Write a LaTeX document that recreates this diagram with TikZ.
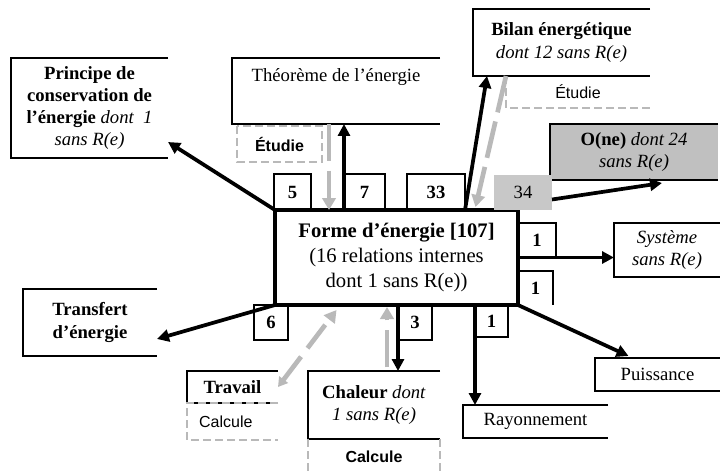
\documentclass[tikz,border=0pt]{standalone}
\usepackage{fontspec}
\setmainfont{Liberation Serif}
\setsansfont{Liberation Sans}
\usetikzlibrary{arrows.meta,calc}
\definecolor{lgray}{RGB}{185,185,185}
\definecolor{boxgray}{RGB}{192,192,192}
\definecolor{numgray}{RGB}{200,200,200}
\tikzset{
  fnt/.style={font=\fontsize{14}{16.7}\selectfont},
  base/.style={anchor=north west, inner sep=0pt, outer sep=0pt, align=center, fnt},
  numb/.style={font=\bfseries\fontsize{14}{16}\selectfont},
  sansb/.style={font=\sffamily\bfseries\fontsize{12}{14}\selectfont},
  sansr/.style={font=\sffamily\fontsize{12}{14}\selectfont},
  arr/.style={line width=2.8pt, -{Triangle[length=9pt,width=9pt]}},
  garr/.style={line width=3.5pt, lgray, dash pattern=on 28pt off 7pt, -{Triangle[length=9pt,width=10pt]}},
  gdash/.style={lgray, line width=1.5pt, dash pattern=on 6pt off 3pt},
  edge1/.style={line width=1.2pt},
  nbord/.style={line width=1.8pt}
}
\newcommand\mkbox[7]{\node[base,#6,minimum width={(#4-#2)*0.75pt},minimum height={(#5-#3)*0.75pt}] (#1) at (#2,#3) {#7};}
\newcommand\openbx[1]{\draw[edge1] (#1.north east) -- (#1.north west) -- (#1.south west) -- (#1.south east);}
\begin{document}
\begin{tikzpicture}[x=0.75pt,y=-0.75pt]
\fill[white] (0,0) rectangle (720,474);
\useasboundingbox (0,0) rectangle (720,474);

% outer boxes
\mkbox{princ}{11}{58}{168}{158}{}{\textbf{Principe de}\\\textbf{conservation de}\\\textbf{l’énergie} \textit{dont\ \ 1}\\\textit{sans R(e)}}
\openbx{princ}
\mkbox{theo}{232}{58}{440}{124}{}{Théorème de l’énergie\\[7pt]\mbox{}}
\openbx{theo}
\mkbox{etuA}{237}{126}{322}{162}{sansb}{Étudie}
\draw[gdash] (etuA.north west) rectangle (etuA.south east);
\mkbox{bilan}{473}{9}{650}{76}{}{\textbf{Bilan énergétique}\\\textit{dont 12 sans R(e)}}
\openbx{bilan}
\mkbox{etuB}{506}{76}{650}{108}{sansr}{Étudie}
\draw[gdash] (etuB.north west) -- (etuB.south west) -- (etuB.south east);
\mkbox{one}{550}{124}{718}{180}{fill=boxgray}{\textbf{O(ne)} \textit{dont 24}\\\textit{sans R(e)}}
\openbx{one}
\mkbox{sys}{614}{223}{720}{277}{}{\textit{Système}\\\textit{sans R(e)}}
\openbx{sys}
\mkbox{transf}{23}{289}{157}{356}{}{\textbf{Transfert}\\\textbf{d’énergie}}
\openbx{transf}
\mkbox{trav}{187}{371}{278}{403}{}{\textbf{Travail}}
\openbx{trav}
\mkbox{calA}{187}{403}{278}{440}{sansr}{Calcule\hspace{10pt}}
\draw[gdash] (calA.north east) -- (calA.north west) -- (calA.south west) -- (calA.south east);
\mkbox{chal}{308}{371}{440}{439}{}{\textbf{Chaleur} \textit{dont}\\\textit{1 sans R(e)}}
\openbx{chal}
\mkbox{calB}{308}{439}{440}{474}{sansb}{Calcule}
\draw[gdash] (calB.north west) -- (calB.south west);
\draw[gdash] (calB.north east) -- (calB.south east);
\mkbox{ray}{463}{405}{608}{438}{}{Rayonnement}
\openbx{ray}
\mkbox{puis}{595}{358}{720}{391}{}{Puissance}
\openbx{puis}

% central box
\mkbox{forme}{275}{210}{518}{305}{draw,line width=3pt,fill=white,font=\fontsize{15.5}{18.75}\selectfont}{\textbf{Forme d’énergie [107]}\\(16 relations internes\\dont 1 sans R(e))}

% number boxes
\mkbox{nA}{274}{174}{311}{210}{numb}{5}
\mkbox{nB}{344}{174}{385}{210}{numb}{7}
\mkbox{nC}{407}{174}{465}{210}{numb}{33}
\mkbox{nD}{494}{175}{552}{210}{fill=numgray,font=\fontsize{14}{16}\selectfont}{34}
\mkbox{nE}{518}{223}{556}{257}{numb}{1}
\mkbox{nF}{518}{271}{553}{305}{numb}{1}
\mkbox{nG}{254}{305}{288}{340}{numb}{6}
\mkbox{nH}{398}{305}{432}{340}{numb}{3}
\mkbox{nI}{475}{305}{508}{337}{numb}{1}
\draw[nbord] (nA.south west) -- (nA.north west) -- (nA.north east) -- (nA.south east);
\draw[nbord] (nB.south west) -- (nB.north west) -- (nB.north east) -- (nB.south east);
\draw[nbord] (nC.south west) -- (nC.north west) -- (nC.north east) -- (nC.south east);
\draw[nbord] (nE.north west) -- (nE.north east) -- (nE.south east);
\draw[nbord] (nF.north west) -- (nF.north east) -- (nF.south east);
\draw[nbord] (nG.north west) rectangle (nG.south east);
\draw[nbord] (nH.north east) -- (nH.south east) -- (nH.south west);
\draw[edge1] (nI.south west) -- (nI.south east) -- (nI.north east);

% connectors
\draw[arr] (forme.north west) -- ($(princ.south east)+(0,-16)$);
\draw[arr] (nB.south west) -- (nB.south west |- theo.south);
\draw[garr] ($(nB.south west |- theo.south)+(-15,0)$) -- ($(nB.south west)+(-15,0)$);
\draw[arr] (nC.south east) -- ($(bilan.south west)+(14,0)$);
\draw[garr] (etuB.north west) -- ($(forme.north)+(79,-3)$);
\draw[arr] ($(nD.east)+(0,7)$) -- ($(one.south)+(28,3)$);
\draw[arr] (forme.east) -- (forme.east -| sys.west);
\draw[arr] (forme.south east) -- ($(puis.north)+(-29,-2)$);
\draw[arr] (nI.north west) -- (nI.north west |- ray.north);
\draw[arr] (nH.north west) -- (nH.north west |- chal.north);
\draw[garr] ($(chal.north)+(13,-4)$) -- ($(chal.north |- forme.south)+(13,2)$);
\draw[garr, dash pattern=on 22pt off 8pt, {Triangle[length=7pt,width=8pt]}-{Triangle[length=9pt,width=10pt]}] (trav.east) -- ($(forme.south)+(-60,5)$);
\draw[arr] (forme.south west) -- ($(transf.south east)+(0,-17)$);
\end{tikzpicture}
\end{document}
